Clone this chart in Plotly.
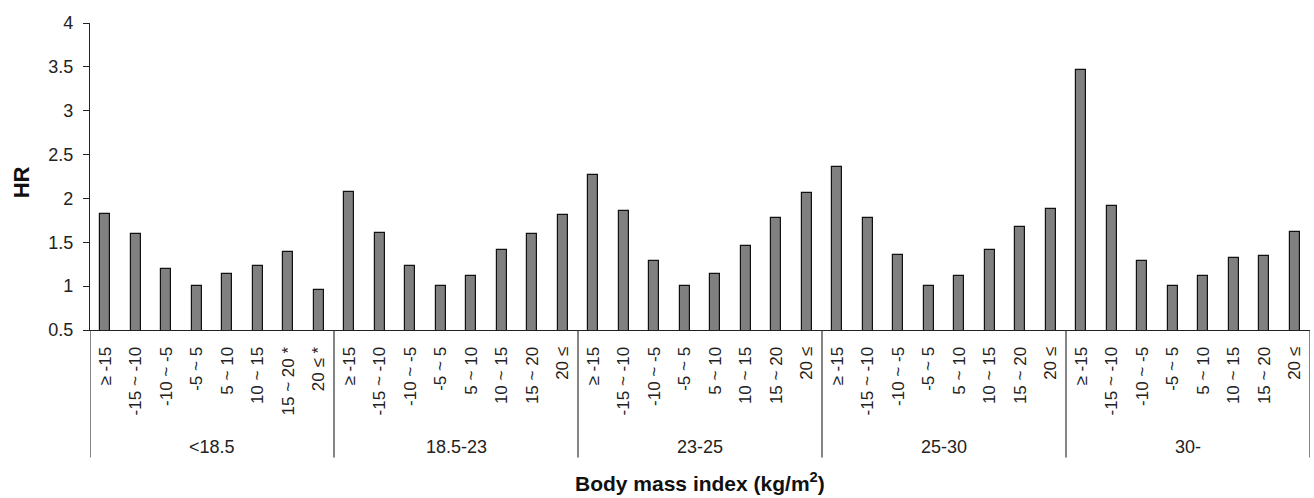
import plotly.graph_objects as go

groups = ["<18.5", "18.5-23", "23-25", "25-30", "30-"]
sub_labels = ["≥ -15", "-15 ~ -10", "-10 ~ -5", "-5 ~ 5", "5 ~ 10", "10 ~ 15", "15 ~ 20", "20 ≤"]
sub_labels_first = ["≥ -15", "-15 ~ -10", "-10 ~ -5", "-5 ~ 5", "5 ~ 10", "10 ~ 15", "15 ~ 20 *", "20 ≤ *"]
hr_lt185 = [1.82, 1.59, 1.19, 1.00, 1.14, 1.23, 1.39, 0.96]
hr_185_23 = [2.07, 1.61, 1.23, 1.00, 1.12, 1.41, 1.59, 1.81]
hr_23_25 = [2.27, 1.86, 1.29, 1.00, 1.14, 1.46, 1.78, 2.06]
hr_25_30 = [2.36, 1.78, 1.36, 1.00, 1.11, 1.41, 1.67, 1.88]
hr_30 = [3.46, 1.91, 1.29, 1.00, 1.11, 1.32, 1.34, 1.62]
y_ticks = [0.5, 1, 1.5, 2, 2.5, 3, 3.5, 4]

series = [hr_lt185, hr_185_23, hr_23_25, hr_25_30, hr_30]
values = [v for s in series for v in s]
labels = sub_labels_first + sub_labels * 4
n_sub = len(sub_labels)
xs = list(range(len(values)))

FONT = "Liberation Sans, Arial, sans-serif"

fig = go.Figure(go.Bar(
    x=xs, y=values, width=0.33,
    marker=dict(color="#808080", line=dict(color="#111111", width=1.2)),
    hoverinfo="y",
))

# group dividers
bounds = [i * n_sub - 0.5 for i in range(len(groups) + 1)]
for b in bounds:
    fig.add_shape(type="line", xref="x", yref="paper", x0=b, x1=b, y0=0, y1=-0.415,
                  line=dict(color="#333333", width=1.2))

for i, g in enumerate(groups):
    fig.add_annotation(x=i * n_sub + (n_sub - 1) / 2, y=-0.381, xref="x", yref="paper",
                       text=g, showarrow=False, yanchor="middle",
                       font=dict(family=FONT, size=18, color="#222222"))

fig.add_annotation(x=0.5, y=-0.495, xref="paper", yref="paper",
                   text="<b>Body mass index (kg/m<sup>2</sup>)</b>", showarrow=False,
                   yanchor="middle", font=dict(family=FONT, size=21, color="#111111"))
fig.add_annotation(x=-0.056, y=0.48, xref="paper", yref="paper", textangle=-90,
                   text="<b>HR</b>", showarrow=False, xanchor="center", yanchor="middle",
                   font=dict(family=FONT, size=22, color="#111111"))

fig.update_layout(
    width=1314, height=498,
    margin=dict(l=90, r=4, t=23, b=168),
    paper_bgcolor="white", plot_bgcolor="white",
    showlegend=False, bargap=0,
)
fig.update_xaxes(
    range=[-0.5, len(values) - 0.5], tickmode="array", tickvals=xs, ticktext=labels,
    tickangle=-90, ticks="", showline=True, linecolor="#222222", linewidth=1.2,
    showgrid=False, zeroline=False, ticklabelstandoff=9,
    tickfont=dict(family=FONT, size=17, color="#222222"),
)
fig.update_yaxes(
    range=[0.5, 4], tickmode="array", tickvals=y_ticks, ticktext=[f"{t:g}" for t in y_ticks],
    ticks="outside", ticklen=6, tickcolor="#222222", showline=True, linecolor="#222222",
    linewidth=1.2, showgrid=False, zeroline=False, ticklabelstandoff=6,
    tickfont=dict(family=FONT, size=18, color="#222222"),
)

fig.write_html("out.html", config={"displayModeBar": False},
               post_script="document.body.style.margin='0';document.body.style.overflow='hidden';")
